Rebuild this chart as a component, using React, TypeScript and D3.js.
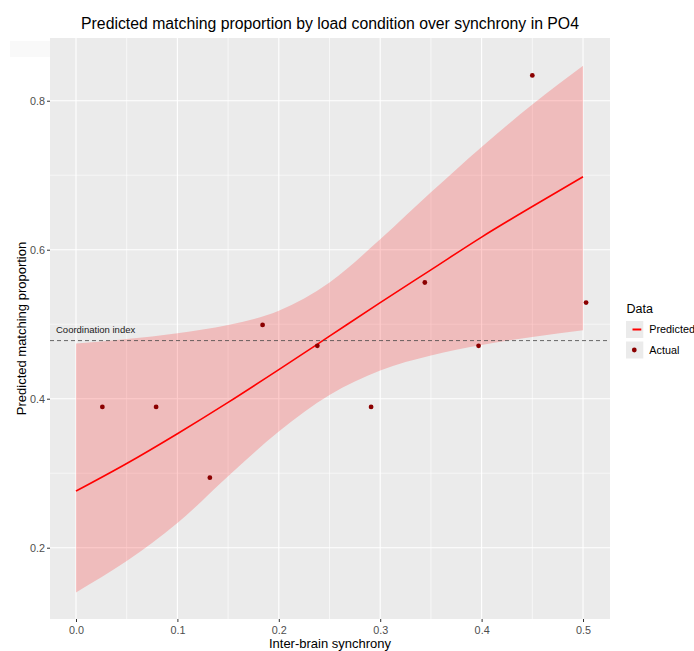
import React, { useRef, useEffect } from "react";
import * as d3 from "d3";

// observed points
const synchrony = [0.026, 0.079, 0.132, 0.184, 0.238, 0.291, 0.344, 0.397, 0.45, 0.503];
const actual = [0.389, 0.389, 0.294, 0.499, 0.471, 0.389, 0.556, 0.471, 0.834, 0.529];

// model fit
const fitX = [0, 0.05, 0.1, 0.15, 0.2, 0.25, 0.3, 0.35, 0.4, 0.45, 0.5];
const predicted = [0.276, 0.313, 0.353, 0.395, 0.439, 0.484, 0.529, 0.573, 0.617, 0.658, 0.698];
const upper = [0.474, 0.48, 0.488, 0.499, 0.518, 0.556, 0.614, 0.677, 0.738, 0.795, 0.847];
const lower = [0.14, 0.182, 0.233, 0.296, 0.356, 0.405, 0.438, 0.458, 0.472, 0.483, 0.492];

const coordinationIndex = 0.478;
const xTicks = [0, 0.1, 0.2, 0.3, 0.4, 0.5];
const xMinor = [0.05, 0.15, 0.25, 0.35, 0.45];
const yTicks = [0.2, 0.4, 0.6, 0.8];
const yMinor = [0.3, 0.5, 0.7];
const legendItems = ["Predicted", "Actual"];

const W = 694;
const H = 651;
const panel = { left: 50, right: 610, top: 38, bottom: 619 };
const font = "'Liberation Sans', Arial, sans-serif";

export default function App() {
  const svgRef = useRef<SVGSVGElement>(null);

  useEffect(() => {
    const svg = d3.select(svgRef.current);
    svg.selectAll("*").remove();

    const x = d3.scaleLinear().domain([-0.02564, 0.5266]).range([panel.left, panel.right]);
    const y = d3.scaleLinear().domain([0.1043, 0.8842]).range([panel.bottom, panel.top]);

    // faint screenshot artefact top-left
    svg.append("rect").attr("x", 10).attr("y", 41).attr("width", 40).attr("height", 16).attr("fill", "#f9f9f9");

    svg
      .append("rect")
      .attr("x", panel.left)
      .attr("y", panel.top)
      .attr("width", panel.right - panel.left)
      .attr("height", panel.bottom - panel.top)
      .attr("fill", "#EBEBEB");

    const grid = svg.append("g").attr("stroke", "#fff");
    grid
      .selectAll(".xminor")
      .data(xMinor)
      .join("line")
      .attr("x1", d => x(d))
      .attr("x2", d => x(d))
      .attr("y1", panel.top)
      .attr("y2", panel.bottom)
      .attr("stroke-width", 0.6);
    grid
      .selectAll(".yminor")
      .data(yMinor)
      .join("line")
      .attr("x1", panel.left)
      .attr("x2", panel.right)
      .attr("y1", d => y(d))
      .attr("y2", d => y(d))
      .attr("stroke-width", 0.6);
    grid
      .selectAll(".xmajor")
      .data(xTicks)
      .join("line")
      .attr("x1", d => x(d))
      .attr("x2", d => x(d))
      .attr("y1", panel.top)
      .attr("y2", panel.bottom)
      .attr("stroke-width", 1.1);
    grid
      .selectAll(".ymajor")
      .data(yTicks)
      .join("line")
      .attr("x1", panel.left)
      .attr("x2", panel.right)
      .attr("y1", d => y(d))
      .attr("y2", d => y(d))
      .attr("stroke-width", 1.1);

    const band = fitX.map((v, i) => ({ x: v, lo: lower[i], hi: upper[i], p: predicted[i] }));

    const area = d3
      .area<any>()
      .x(d => x(d.x))
      .y0(d => y(d.lo))
      .y1(d => y(d.hi))
      .curve(d3.curveMonotoneX);
    svg.append("path").datum(band).attr("d", area).attr("fill", "red").attr("fill-opacity", 0.2);

    const line = d3
      .line<any>()
      .x(d => x(d.x))
      .y(d => y(d.p))
      .curve(d3.curveMonotoneX);
    svg
      .append("path")
      .datum(band)
      .attr("d", line)
      .attr("fill", "none")
      .attr("stroke", "red")
      .attr("stroke-width", 1.6);

    svg
      .append("line")
      .attr("x1", panel.left)
      .attr("x2", panel.right)
      .attr("y1", y(coordinationIndex))
      .attr("y2", y(coordinationIndex))
      .attr("stroke", "#444")
      .attr("stroke-width", 0.8)
      .attr("stroke-dasharray", "4,3");

    svg
      .append("text")
      .attr("x", 56)
      .attr("y", 333.3)
      .attr("font-size", 9.5)
      .attr("fill", "#1a1a1a")
      .text("Coordination index");

    svg
      .selectAll(".pt")
      .data(synchrony)
      .join("circle")
      .attr("cx", d => x(d))
      .attr("cy", (d, i) => y(actual[i]))
      .attr("r", 2.4)
      .attr("fill", "darkred");

    // axes
    const xAxis = svg
      .append("g")
      .attr("transform", `translate(0,${panel.bottom})`)
      .call(d3.axisBottom(x).tickValues(xTicks).tickFormat(d3.format(".1f")).tickSize(3).tickPadding(4));
    const yAxis = svg
      .append("g")
      .attr("transform", `translate(${panel.left},0)`)
      .call(d3.axisLeft(y).tickValues(yTicks).tickFormat(d3.format(".1f")).tickSize(3).tickPadding(2));
    [xAxis, yAxis].forEach(g => {
      g.select(".domain").remove();
      g.selectAll(".tick line").attr("stroke", "#333");
      g.selectAll(".tick text").attr("fill", "#4D4D4D").attr("font-size", 10.8).attr("font-family", font);
    });

    svg
      .append("text")
      .attr("x", (panel.left + panel.right) / 2)
      .attr("y", 29.3)
      .attr("text-anchor", "middle")
      .attr("font-size", 15.8)
      .text("Predicted matching proportion by load condition over synchrony in PO4");

    svg
      .append("text")
      .attr("x", (panel.left + panel.right) / 2)
      .attr("y", 648)
      .attr("text-anchor", "middle")
      .attr("font-size", 13)
      .text("Inter-brain synchrony");

    svg
      .append("text")
      .attr("transform", `translate(25.5,${(panel.top + panel.bottom) / 2}) rotate(-90)`)
      .attr("text-anchor", "middle")
      .attr("font-size", 13)
      .text("Predicted matching proportion");

    // legend
    const legend = svg.append("g").attr("transform", "translate(626,0)");
    legend.append("text").attr("x", 0.5).attr("y", 312.7).attr("font-size", 12.5).text("Data");
    const keyY = [321, 341.5];
    legendItems.forEach((label, i) => {
      const ky = keyY[i];
      legend.append("rect").attr("x", 0).attr("y", ky).attr("width", 17.3).attr("height", 17).attr("fill", "#EBEBEB");
      if (i === 0) {
        legend
          .append("line")
          .attr("x1", 6.5)
          .attr("x2", 15.3)
          .attr("y1", ky + 8.5)
          .attr("y2", ky + 8.5)
          .attr("stroke", "red")
          .attr("stroke-width", 2);
      } else {
        legend.append("circle").attr("cx", 8.3).attr("cy", ky + 8.5).attr("r", 2.4).attr("fill", "darkred");
      }
      legend
        .append("text")
        .attr("x", 23.3)
        .attr("y", ky + 12.3)
        .attr("font-size", 10.8)
        .attr("fill", "#000")
        .text(label);
    });
  }, []);

  return (
    <div style={{ position: "absolute", left: 0, top: 0 }}>
      <svg ref={svgRef} width={W} height={H} style={{ display: "block", fontFamily: font }} />
    </div>
  );
}
